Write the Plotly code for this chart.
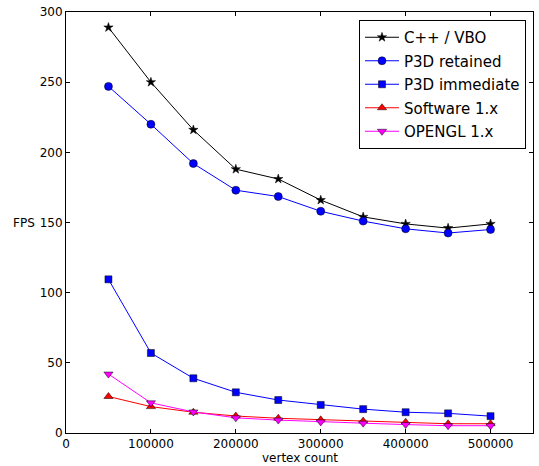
import plotly.graph_objects as go

vertex_count = [50000, 100000, 150000, 200000, 250000, 300000, 350000, 400000, 450000, 500000]
cpp_vbo = [289, 250, 216, 188, 181, 166, 154, 149, 146, 149]
p3d_retained = [247, 220, 192, 173, 168.5, 158, 151, 145.5, 142.5, 145]
p3d_immediate = [109.5, 57, 39, 29, 23.5, 20, 17, 14.8, 14, 12]
software_1x = [26, 18.8, 14.8, 12.1, 10.5, 9.4, 8.5, 7.7, 6.6, 6.6]
opengl_1x = [42, 21.5, 15, 10.8, 9.2, 7.9, 7, 6, 5.2, 5.2]

x_ticks = [0, 100000, 200000, 300000, 400000, 500000]
y_ticks = [0, 50, 100, 150, 200, 250, 300]

series = [
    ("C++ / VBO", cpp_vbo, "#000000", "star", 7),
    ("P3D retained", p3d_retained, "#0000ff", "circle", 8),
    ("P3D immediate", p3d_immediate, "#0000ff", "square", 7),
    ("Software 1.x", software_1x, "#ff0000", "triangle-up", 8),
    ("OPENGL 1.x", opengl_1x, "#ff00ff", "triangle-down", 8),
]

fig = go.Figure()
for name, vals, lc, sym, sz in series:
    fig.add_trace(go.Scatter(
        x=vertex_count, y=vals, name=name, mode="lines+markers", legendgroup=name,
        line=dict(color=lc, width=1),
        marker=dict(symbol=sym, size=sz, color=lc, line=dict(color="#000000", width=0.5)),
    ))

font = "DejaVu Sans, sans-serif"
fig.update_layout(
    width=539, height=466,
    margin=dict(l=66, r=6, t=12, b=33, autoexpand=False),
    paper_bgcolor="white", plot_bgcolor="white",
    font=dict(family=font, size=12, color="#000000"),
    showlegend=True,
    legend=dict(
        x=(526 - 66) / 467, y=(433 - 20) / 421, xanchor="right", yanchor="top",
        bordercolor="#000000", borderwidth=1, bgcolor="white",
        font=dict(family=font, size=15, color="#000000"),
        itemwidth=34, tracegroupgap=1,
    ),
    xaxis=dict(
        range=[0, 550000], tickvals=x_ticks, ticktext=[str(v) for v in x_ticks],
        showgrid=False, zeroline=False, showline=True, linecolor="#000000", linewidth=1,
        mirror="ticks", ticks="inside", ticklen=4, tickcolor="#000000", automargin=False,
    ),
    yaxis=dict(
        range=[0, 300], tickvals=y_ticks,
        showgrid=False, zeroline=False, showline=True, linecolor="#000000", linewidth=1,
        mirror="ticks", ticks="inside", ticklen=4, tickcolor="#000000", automargin=False,
    ),
    annotations=[
        dict(
            text="FPS", xref="paper", yref="y", x=(37 - 66) / 467, y=150,
            xanchor="right", yanchor="middle", showarrow=False,
            font=dict(family=font, size=12, color="#000000"),
        ),
        dict(
            text="vertex count", xref="paper", yref="paper", x=0.5, y=-25 / 421,
            xanchor="center", yanchor="middle", showarrow=False,
            font=dict(family=font, size=12, color="#000000"),
        ),
    ],
)

fig.write_html("out.html", config={"displayModeBar": False},
               post_script="document.body.style.margin='0';")
